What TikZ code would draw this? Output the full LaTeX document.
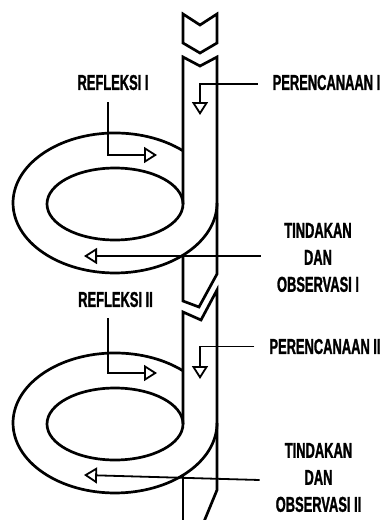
\documentclass[tikz,border=0pt]{standalone}
\usepackage{fontspec}
\usetikzlibrary{arrows.meta}
\newfontfamily\labfont{Liberation Sans}[FakeStretch=0.6,FakeBold=1.2]
\begin{document}
\begin{tikzpicture}[x=1pt,y=-1pt,
  ribbon/.style={line width=2.7pt, line join=miter},
  arr/.style={line width=1.8pt, -{Triangle[open,length=13pt,width=16pt]}},
  lab/.style={inner sep=0pt, font=\labfont\bfseries\fontsize{21.5}{27}\selectfont, align=center}]
\fill[white] (0,0) rectangle (386,520);
\useasboundingbox (0,0) rectangle (386,520);
% top chevron
\draw[ribbon] (183,14) -- (200,25) -- (217,14) -- (217,43) -- (200,53) -- (183,43) -- cycle;
% loop 1
\draw[ribbon] (115,204) ellipse [x radius=68pt, y radius=36pt];
\draw[ribbon] (183,150.8) arc [start angle=48.2, end angle=360, x radius=102pt, y radius=70pt];
\draw[ribbon] (183,204) -- (183,57) -- (200,66) -- (217,57) -- (217,274) -- (199,307) -- (183,301) -- (183,255.2);
% loop 2
\draw[ribbon] (115,424) ellipse [x radius=68pt, y radius=36pt];
\draw[ribbon] (183,370.8) arc [start angle=48.2, end angle=360, x radius=102pt, y radius=70pt];
\draw[ribbon] (183,424) -- (183,312) -- (201,320) -- (217,290) -- (217,490) -- (203,524);
\draw[ribbon] (183,475.2) -- (183,524);
% labels
\node[lab] (refl1) at (113,82.5) {REFLEKSI I};
\node[lab] (pren1) at (326.5,82.5) {PERENCANAAN I};
\node[lab] (tind1) at (318,257.5) {TINDAKAN\\DAN\\OBSERVASI I};
\node[lab] (refl2) at (115.5,299.5) {REFLEKSI II};
\node[lab] (pren2) at (325,346.5) {PERENCANAAN II};
\node[lab] (tind2) at (318.5,477.5) {TINDAKAN\\DAN\\OBSERVASI II};
% arrow tips
\coordinate (p1tip) at (200,115);
\coordinate (r1tip) at (157,155);
\coordinate (t1tip) at (84,256);
\coordinate (p2tip) at (200,379);
\coordinate (r2tip) at (157,373);
\coordinate (t2tip) at (84,475);
% arrows
\draw[arr] ([xshift=-15pt,yshift=-1.5pt]pren1.west) -| (p1tip);
\draw[arr] ([xshift=-5pt,yshift=-12pt]refl1.south) |- (r1tip);
\draw[arr] ([xshift=-16pt,yshift=1.5pt]tind1.west) -- (t1tip);
\draw[arr] ([xshift=-15pt]pren2.west) -| (p2tip);
\draw[arr] ([xshift=-7.5pt,yshift=-11pt]refl2.south) |- (r2tip);
\draw[arr] ([xshift=-16pt,yshift=-2.5pt]tind2.west) -- (t2tip);
\end{tikzpicture}
\end{document}
